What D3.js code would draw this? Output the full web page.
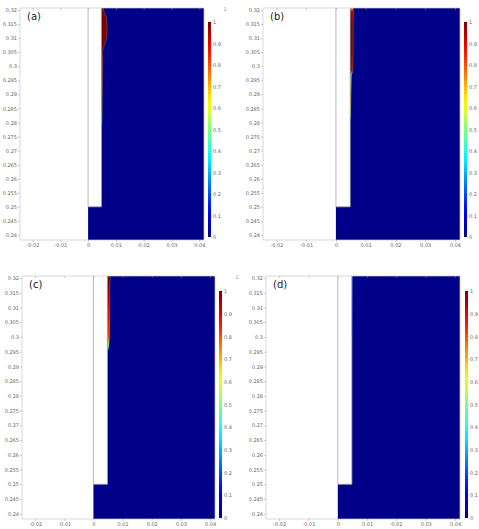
<!DOCTYPE html>
<html>
<head>
<meta charset="utf-8">
<script src="https://cdn.jsdelivr.net/npm/d3@7"></script>
<style>
  body { margin: 0; background: #fff; }
  svg { display: block; }
  text { font-family: "DejaVu Sans", sans-serif; }
</style>
</head>
<body>
<svg id="fig" width="479" height="529"></svg>
<script>
// tick labels
const xTicks = [-0.02, -0.01, 0, 0.01, 0.02, 0.03, 0.04];
const yTicks = [0.24, 0.245, 0.25, 0.255, 0.26, 0.265, 0.27, 0.275, 0.28,
                0.285, 0.29, 0.295, 0.3, 0.305, 0.31, 0.315, 0.32];
const cbTicks = [0, 0.1, 0.2, 0.3, 0.4, 0.5, 0.6, 0.7, 0.8, 0.9, 1];

// view window and geometry (m)
const xDomain = [-0.0245, 0.0417];
const yDomain = [0.2382, 0.3207];
const inletX = [0, 0.0048];   // wall, inner edge of the inlet
const inletY = 0.25;          // bottom of the inlet

// liquid film along the wall: y, outer x, value
const filmAY = [0.3207, 0.3195, 0.3185, 0.3165, 0.3140, 0.3115, 0.3100, 0.3085,
                0.3070, 0.3060, 0.3045, 0.3030, 0.2950, 0.2870, 0.2800, 0.2785];
const filmAX = [0.0054, 0.0057, 0.0062, 0.0067, 0.0068, 0.0068, 0.0067, 0.0063,
                0.0057, 0.0054, 0.0052, 0.0053, 0.0052, 0.0051, 0.0050, 0.0049];
const filmAV = [0.95, 1, 1, 1, 1, 1, 1, 1, 1, 1, 1, 0.95, 0.95, 0.9, 0.7, 0.4];

const filmBY = [0.3207, 0.3195, 0.3150, 0.3050, 0.2985, 0.2965, 0.2900, 0.2815];
const filmBX = [0.0058, 0.0059, 0.0058, 0.0058, 0.0057, 0.0052, 0.0051, 0.0049];
const filmBV = [0.7, 0.95, 1, 1, 0.95, 0.5, 0.75, 0.6];

const filmCY = [0.3207, 0.3190, 0.3150, 0.3100, 0.3050, 0.3000, 0.2970, 0.2955];
const filmCX = [0.0059, 0.0057, 0.0056, 0.0056, 0.0056, 0.0055, 0.0053, 0.0050];
const filmCV = [1, 1, 0.95, 0.9, 0.85, 0.8, 0.5, 0.35];

const filmDY = [0.3207, 0.3100, 0.3000];
const filmDX = [0.0050, 0.0050, 0.0049];
const filmDV = [0.2, 0.15, 0.1];

// jet colour map
const jet = d3.scaleLinear()
  .domain([0, 0.125, 0.375, 0.625, 0.875, 1])
  .range(["#000088", "#0000ff", "#00ffff", "#ffff00", "#ff0000", "#800000"])
  .clamp(true);

const panels = [
  {id: "a", label: "(a)", box: [20, 8, 204, 240], cbX: 208, cb: [22, 237], unit: [225, 11],
   fy: filmAY, fx: filmAX, fv: filmAV},
  {id: "b", label: "(b)", box: [263, 8, 460, 240], cbX: 464, cb: [22, 237], unit: null,
   fy: filmBY, fx: filmBX, fv: filmBV},
  {id: "c", label: "(c)", box: [22, 276, 215, 519], cbX: 219, cb: [291, 518], unit: [237, 279],
   fy: filmCY, fx: filmCX, fv: filmCV},
  {id: "d", label: "(d)", box: [266, 276, 460, 519], cbX: 465, cb: [291, 518], unit: null,
   fy: filmDY, fx: filmDX, fv: filmDV}
];

const svg = d3.select("#fig");
const defs = svg.append("defs");

// colourbar gradient
const cbGrad = defs.append("linearGradient").attr("id", "cbgrad")
  .attr("x1", 0).attr("y1", 1).attr("x2", 0).attr("y2", 0);
cbGrad.selectAll("stop").data(d3.range(0, 1.0001, 0.05)).enter().append("stop")
  .attr("offset", d => d).attr("stop-color", d => jet(d));

panels.forEach(function (p) {
  const [x0, y0, x1, y1] = p.box;
  const x = d3.scaleLinear().domain(xDomain).range([x0, x1]);
  const y = d3.scaleLinear().domain(yDomain).range([y1, y0]);
  const g = svg.append("g");

  defs.append("clipPath").attr("id", "clip" + p.id)
    .append("rect").attr("x", x0).attr("y", y0).attr("width", x1 - x0).attr("height", y1 - y0);

  // fluid domain
  const dom = [[inletX[0], yDomain[0]], [xDomain[1], yDomain[0]], [xDomain[1], yDomain[1]],
               [inletX[1], yDomain[1]], [inletX[1], inletY], [inletX[0], inletY]];
  g.append("path")
    .attr("d", d3.line().x(d => x(d[0])).y(d => y(d[1]))(dom) + "Z")
    .attr("fill", jet(0));

  // film
  const grad = defs.append("linearGradient").attr("id", "film" + p.id)
    .attr("gradientUnits", "userSpaceOnUse")
    .attr("x1", 0).attr("x2", 0)
    .attr("y1", y(p.fy[0])).attr("y2", y(p.fy[p.fy.length - 1]));
  const span = y(p.fy[p.fy.length - 1]) - y(p.fy[0]);
  grad.selectAll("stop").data(p.fy).enter().append("stop")
    .attr("offset", d => (y(d) - y(p.fy[0])) / span)
    .attr("stop-color", (d, i) => jet(p.fv[i]));

  const pts = p.fy.map((v, i) => ({y: v, x: p.fx[i]}));
  const fg = g.append("g").attr("clip-path", "url(#clip" + p.id + ")");
  fg.append("path")
    .datum(pts)
    .attr("d", d3.area().curve(d3.curveMonotoneY)
      .y(d => y(d.y)).x0(x(inletX[1])).x1(d => x(d.x)))
    .attr("fill", "url(#film" + p.id + ")");
  if (d3.max(p.fv) > 0.5) {
    fg.append("path")
      .datum(pts)
      .attr("d", d3.line().curve(d3.curveMonotoneY).y(d => y(d.y)).x(d => x(d.x)))
      .attr("fill", "none")
      .attr("stroke", jet(0.45))
      .attr("stroke-width", 0.5)
      .attr("opacity", 0.5);
  }

  // geometry boundary lines
  g.append("path")
    .attr("d", d3.line().x(d => x(d[0])).y(d => y(d[1]))(
      [[inletX[0], yDomain[1]], [inletX[0], inletY], [inletX[1], inletY], [inletX[1], yDomain[1]]]))
    .attr("fill", "none").attr("stroke", "#aaa").attr("stroke-width", 0.8);

  // frame
  g.append("rect").attr("x", x0).attr("y", y0).attr("width", x1 - x0).attr("height", y1 - y0)
    .attr("fill", "none").attr("stroke", "#c8c8c8").attr("stroke-width", 0.7);

  // axes
  const fmt = d => String(+d.toFixed(3));
  const ax = g.append("g").attr("transform", "translate(0," + y1 + ")")
    .call(d3.axisBottom(x).tickValues(xTicks).tickFormat(fmt).tickSizeInner(2).tickSizeOuter(0).tickPadding(1));
  const axTop = g.append("g").attr("transform", "translate(0," + y0 + ")")
    .call(d3.axisBottom(x).tickValues(xTicks).tickFormat("").tickSizeInner(2).tickSizeOuter(0));
  const ay = g.append("g").attr("transform", "translate(" + x0 + ",0)")
    .call(d3.axisLeft(y).tickValues(yTicks).tickFormat(fmt).tickSizeInner(2).tickSizeOuter(0).tickPadding(1));
  [ax, axTop, ay].forEach(a => {
    a.select(".domain").remove();
    a.selectAll("line").attr("stroke", "#999").attr("stroke-width", 0.5);
    a.selectAll("text").attr("font-size", 5).attr("fill", "#666");
  });

  // panel label
  g.append("text").attr("x", x0 + 7).attr("y", y0 + 12)
    .attr("font-family", "'Open Sans', sans-serif")
    .attr("font-size", 10).attr("fill", "#222").text(p.label);

  // colourbar
  const cbScale = d3.scaleLinear().domain([0, 1]).range([p.cb[1], p.cb[0]]);
  g.append("rect").attr("x", p.cbX).attr("y", p.cb[0]).attr("width", 3)
    .attr("height", p.cb[1] - p.cb[0]).attr("fill", "url(#cbgrad)");
  const ac = g.append("g").attr("transform", "translate(" + (p.cbX + 3) + ",0)")
    .call(d3.axisRight(cbScale).tickValues(cbTicks).tickFormat(fmt).tickSizeInner(1).tickSizeOuter(0).tickPadding(1));
  ac.select(".domain").remove();
  ac.selectAll("line").attr("stroke", "#999").attr("stroke-width", 0.5);
  ac.selectAll("text").attr("font-size", 5).attr("fill", "#666");

  if (p.unit) {
    g.append("text").attr("x", p.unit[0]).attr("y", p.unit[1]).attr("text-anchor", "middle")
      .attr("font-size", 5).attr("fill", "#999").text("1");
  }
});
</script>
</body>
</html>
